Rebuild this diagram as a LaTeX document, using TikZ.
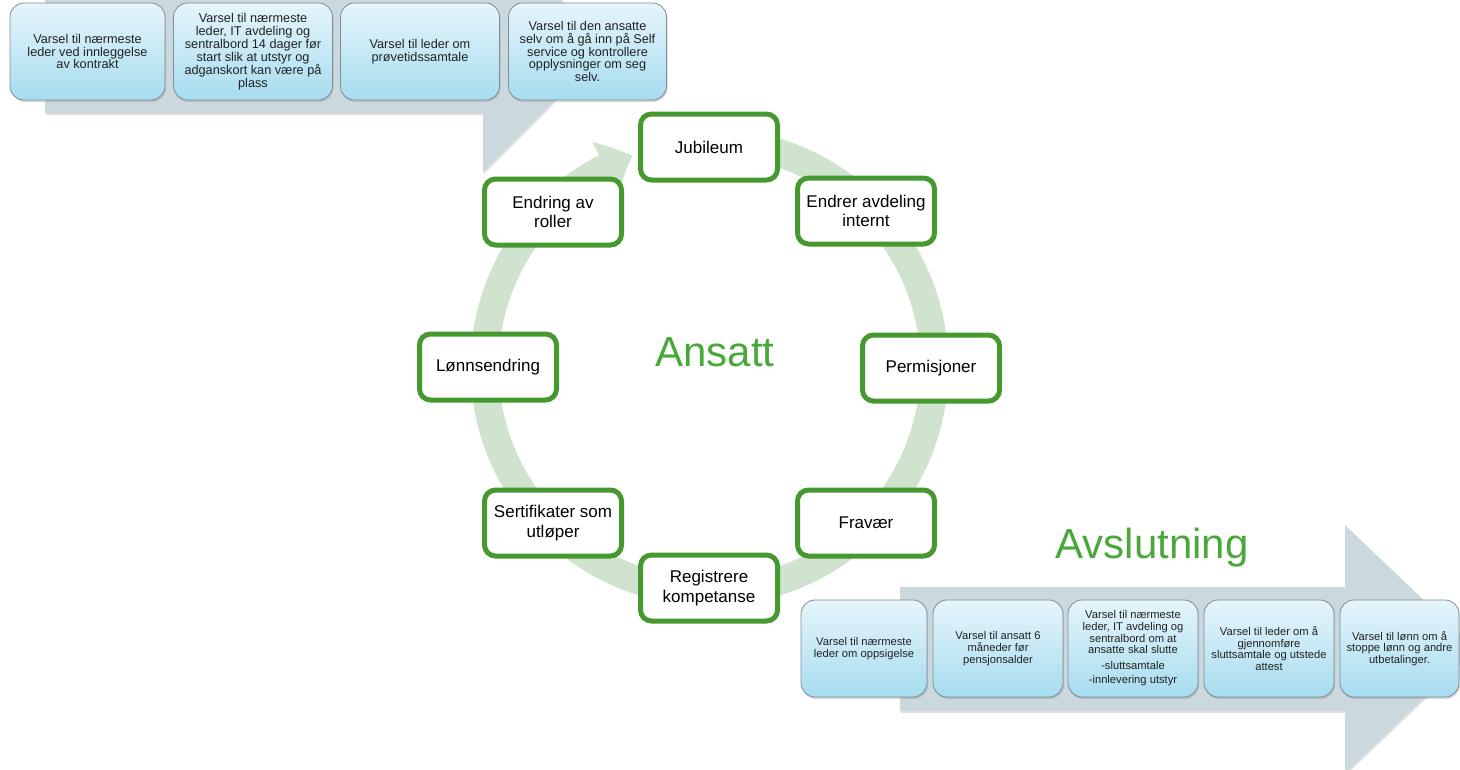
\documentclass[tikz,border=0pt]{standalone}
\usepackage{fontspec}
\setmainfont{Liberation Sans}
\usetikzlibrary{arrows.meta,shadows,bending}
\definecolor{arrowgrey}{HTML}{CBD9DF}
\definecolor{ringgreen}{HTML}{D0E3CE}
\definecolor{nodegreen}{HTML}{46992F}
\definecolor{titlegreen}{HTML}{4AA83B}
\definecolor{boxtop}{HTML}{E6F5FB}
\definecolor{boxbot}{HTML}{A6DCEF}
\definecolor{boxline}{HTML}{7E8D96}
\definecolor{boxtext}{HTML}{222222}
\tikzset{
  cyclenode/.style={draw=nodegreen, line width=5pt, fill=white, rounded corners=11pt,
    minimum width=137pt, minimum height=66pt, inner sep=0pt, align=center,
    font=\fontsize{17}{19.5}\selectfont,
    drop shadow={opacity=0.3, shadow xshift=1.5pt, shadow yshift=-2pt}},
  infobox/.style={draw=boxline, line width=0.8pt, top color=boxtop, bottom color=boxbot,
    rounded corners=14pt, align=center, inner sep=0pt, text=boxtext,
    drop shadow={opacity=0.3, shadow xshift=1pt, shadow yshift=-2pt}},
  topbox/.style={infobox, minimum height=97pt, font=\fontsize{12.7}{12.9}\selectfont},
  botbox/.style={infobox, minimum height=97pt, font=\fontsize{11.2}{11.6}\selectfont},
  bigarrow/.style={fill=arrowgrey, draw=none,
    drop shadow={opacity=0.25, shadow xshift=1pt, shadow yshift=-2pt}},
  bigtitle/.style={text=titlegreen, font=\fontsize{42}{48}\selectfont, inner sep=0pt},
  ring/.style={draw=ringgreen, line width=28pt}
}
\begin{document}
\begin{tikzpicture}[x=1pt,y=1pt]
\useasboundingbox (0,0) rectangle (1460,-769);
\clip (0,0) rectangle (1460,-769);

% big grey arrows
\fill[bigarrow] (45,20) -- (483,20) -- (483,79) -- (608,-46.5) -- (483,-172) -- (483,-113) -- (45,-113) -- cycle;
\fill[bigarrow] (900,-587) -- (1345,-587) -- (1345,-525) -- (1475,-649) -- (1345,-773) -- (1345,-711) -- (900,-711) -- cycle;

% ring
\coordinate (ringc) at (709.5,-367);
\draw[ring, -{Triangle[length=30pt,width=56pt,bend]}] ([shift={(85:225)}]ringc) arc[start angle=85, end angle=-250, radius=225];

% titles
\node[bigtitle] (ansatt) at (715,-352) {Ansatt};
\node[bigtitle] (avslutning) at (1152,-548) {Avslutning};

% cycle nodes
\node[cyclenode] (c1) at (709,-147) {Jubileum};
\node[cyclenode] (c2) at (866,-211) {Endrer avdeling\\internt};
\node[cyclenode] (c3) at (931,-368) {Permisjoner};
\node[cyclenode] (c4) at (866,-523) {Fravær};
\node[cyclenode] (c5) at (709,-588) {Registrere\\kompetanse};
\node[cyclenode] (c6) at (553,-523) {Sertifikater som\\utløper};
\node[cyclenode] (c7) at (488,-367) {Lønnsendring};
\node[cyclenode] (c8) at (553,-212) {Endring av\\roller};

% top boxes
\node[topbox, minimum width=155pt] (top1) at (87.5,-51.5) {Varsel til nærmeste\\leder ved innleggelse\\av kontrakt};
\node[topbox, minimum width=159pt] (top2) at (253,-51.5) {Varsel til nærmeste\\leder, IT avdeling og\\sentralbord 14 dager før\\start slik at utstyr og\\adganskort kan være på\\plass};
\node[topbox, minimum width=159pt] (top3) at (420,-51.5) {Varsel til leder om\\prøvetidssamtale};
\node[topbox, minimum width=158pt] (top4) at (587.5,-51.5) {Varsel til den ansatte\\selv om å gå inn på Self\\service og kontrollere\\opplysninger om seg\\selv.};

% bottom boxes
\node[botbox, minimum width=126pt] (bot1) at (864,-648.5) {Varsel til nærmeste\\leder om oppsigelse};
\node[botbox, minimum width=130pt] (bot2) at (998,-648.5) {Varsel til ansatt 6\\måneder før\\pensjonsalder};
\node[botbox, minimum width=130pt] (bot3) at (1133,-648.5) {Varsel til nærmeste\\leder, IT avdeling og\\sentralbord om at\\ansatte skal slutte\\[4pt]-sluttsamtale\\[3pt]-innlevering utstyr};
\node[botbox, minimum width=130pt] (bot4) at (1269,-648.5) {Varsel til leder om å\\gjennomføre\\sluttsamtale og utstede\\attest};
\node[botbox, minimum width=119pt] (bot5) at (1399.5,-648.5) {Varsel til lønn om å\\stoppe lønn og andre\\utbetalinger.};
\end{tikzpicture}
\end{document}
